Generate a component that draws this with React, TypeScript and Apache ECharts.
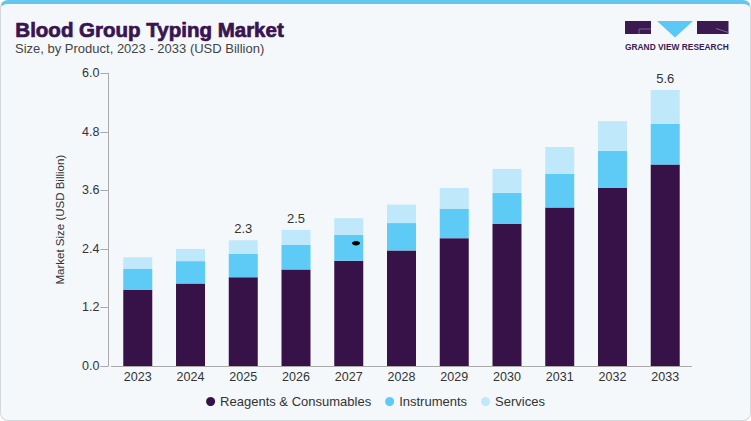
import React, { useEffect, useRef } from "react";
import * as echarts from "echarts";

const years = ["2023", "2024", "2025", "2026", "2027", "2028", "2029", "2030", "2031", "2032", "2033"];
const reagents = [1.56, 1.69, 1.82, 1.98, 2.16, 2.37, 2.62, 2.91, 3.25, 3.65, 4.13];
const instruments = [0.43, 0.46, 0.48, 0.5, 0.53, 0.56, 0.6, 0.64, 0.69, 0.76, 0.83];
const services = [0.24, 0.25, 0.28, 0.31, 0.34, 0.38, 0.43, 0.49, 0.55, 0.61, 0.7];
const totalLabels = ["", "", "2.3", "2.5", "", "", "", "", "", "", "5.6"];
const yTicks = [0, 1.2, 2.4, 3.6, 4.8, 6.0];
const seriesNames = ["Reagents & Consumables", "Instruments", "Services"];
const colors = ["#371248", "#5ecbf6", "#bfe9fa"];

const FONT = "'Liberation Sans', Arial, sans-serif";

export default function App() {
  const ref = useRef<HTMLDivElement>(null);
  useEffect(() => {
    if (!ref.current) return;
    const chart = echarts.init(ref.current, undefined, { renderer: "svg" });
    const dataSets = [reagents, instruments, services];
    chart.setOption({
      animation: false,
      textStyle: { fontFamily: FONT },
      grid: { left: 111.4, right: 59.4, top: 73.3, bottom: 55 },
      legend: {
        data: seriesNames,
        top: 390,
        left: "center",
        icon: "circle",
        itemWidth: 9,
        itemHeight: 9,
        itemGap: 14,
        textStyle: { fontSize: 13, color: "#333", fontFamily: FONT },
      },
      xAxis: {
        type: "category",
        data: years,
        axisLine: { lineStyle: { color: "#aaa", width: 1 } },
        axisTick: { show: false },
        axisLabel: { color: "#333", fontSize: 12.5, margin: 4, fontFamily: FONT },
      },
      yAxis: {
        type: "value",
        min: yTicks[0],
        max: yTicks[yTicks.length - 1],
        interval: yTicks[1] - yTicks[0],
        offset: 3,
        name: "Market Size (USD Billion)",
        nameLocation: "middle",
        nameGap: 42,
        nameTextStyle: { color: "#333", fontSize: 11.5, fontFamily: FONT },
        axisLine: { show: true, lineStyle: { color: "#aaa", width: 1 } },
        axisTick: { show: true, length: 8, lineStyle: { color: "#aaa" } },
        splitLine: { show: false },
        axisLabel: {
          color: "#333",
          fontSize: 12.5,
          margin: 9,
          fontFamily: FONT,
          formatter: (v: number) => v.toFixed(1),
        },
      },
      series: dataSets.map((d, i) => ({
        name: seriesNames[i],
        type: "bar",
        stack: "total",
        barWidth: 29,
        data: d,
        itemStyle: { color: colors[i] },
        label:
          i === 2
            ? {
                show: true,
                position: "top",
                distance: 5,
                color: "#333",
                fontSize: 13,
                fontFamily: FONT,
                formatter: (p: any) => totalLabels[p.dataIndex],
              }
            : { show: false },
      })),
      graphic: [
        {
          type: "text",
          left: 15,
          top: 19,
          style: {
            text: "Blood Group Typing Market",
            fill: "#3a1450",
            font: `bold 20.5px ${FONT}`,
            stroke: "#3a1450",
            lineWidth: 0.7,
          },
        },
        {
          type: "text",
          left: 15,
          top: 42,
          style: {
            text: "Size, by Product, 2023 - 2033 (USD Billion)",
            fill: "#444",
            font: `13px ${FONT}`,
          },
        },
        { type: "rect", shape: { x: 625, y: 21, width: 26, height: 13 }, style: { fill: "#3b1a52" } },
        {
          type: "polyline",
          shape: { points: [[639, 34], [639, 29], [651, 29]] },
          style: { stroke: "#8a7a99", lineWidth: 0.8, fill: null },
        },
        {
          type: "polygon",
          shape: { points: [[657, 21], [693, 21], [675, 37.5]] },
          style: { fill: "#5bc8f5" },
        },
        { type: "rect", shape: { x: 697, y: 21, width: 31.5, height: 13 }, style: { fill: "#3b1a52" } },
        {
          type: "line",
          shape: { x1: 716, y1: 28.5, x2: 728.5, y2: 32.5 },
          style: { stroke: "#8a7a99", lineWidth: 0.8 },
        },
        {
          type: "text",
          left: 625,
          top: 43,
          style: {
            text: "GRAND VIEW RESEARCH",
            fill: "#3b1a52",
            font: `bold 8.4px ${FONT}`,
          },
        },
        {
          type: "ellipse",
          z: 100,
          shape: { cx: 356, cy: 243.3, rx: 4, ry: 2.2 },
          style: { fill: "#000" },
        },
      ],
    });
    return () => chart.dispose();
  }, []);

  return (
    <div style={{ position: "fixed", left: 0, top: 0, width: 751, height: 421, background: "#fff" }}>
      <div
        style={{
          position: "absolute",
          left: 0,
          top: 0,
          width: 751,
          height: 421,
          boxSizing: "border-box",
          background: "#f4f8fb",
          border: "1px solid #d3d8dc",
          borderTop: "4px solid #62c6ef",
          borderRadius: 8,
        }}
      />
      <div ref={ref} style={{ position: "absolute", left: 0, top: 0, width: 751, height: 421 }} />
    </div>
  );
}
